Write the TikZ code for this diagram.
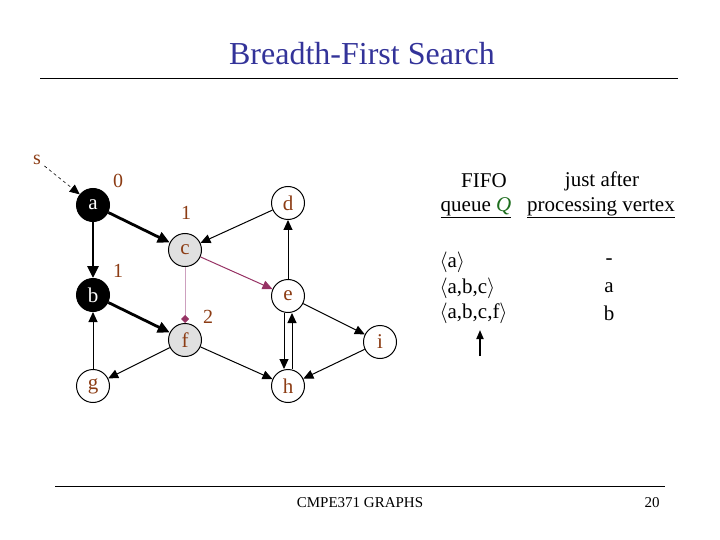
\documentclass[tikz,border=0pt]{standalone}
\usepackage{fontspec}
\setmainfont{Liberation Serif}
\usetikzlibrary{arrows.meta}
\definecolor{ttl}{RGB}{51,51,153}
\definecolor{brn}{RGB}{140,60,20}
\definecolor{pur}{RGB}{150,50,100}
\definecolor{pnk}{RGB}{205,160,190}
\definecolor{grn}{RGB}{30,110,30}
\tikzset{
 vtx/.style={circle,draw,line width=1pt,minimum size=33pt,inner sep=0pt,font=\fontsize{21}{23}\selectfont,text=brn,fill=white},
 blk/.style={vtx,fill=black,text=white},
 gry/.style={vtx,fill=black!12},
 ed/.style={-{Triangle[length=10pt,width=9pt]},line width=1pt},
 tk/.style={-{Triangle[length=12pt,width=11pt]},line width=2.8pt},
 lbl/.style={text=brn,font=\fontsize{20}{22}\selectfont},
 tx/.style={font=\fontsize{21}{24}\selectfont}
}
\begin{document}
\begin{tikzpicture}[x=1pt,y=-1pt]
\useasboundingbox (0,0) rectangle (720,540);
\node[text=ttl,font=\fontsize{32}{36}\selectfont] (title) at (362,54) {Breadth-First Search};
\coordinate (t1) at (40,78); \coordinate (t2) at (678,78);
\draw (t1) -- (t2);
\coordinate (b1) at (55,486); \coordinate (b2) at (665,486);
\draw (b1) -- (b2);
\node[font=\fontsize{15}{17}\selectfont] (foot) at (360,503) {CMPE371 GRAPHS};
\node[font=\fontsize{15}{17}\selectfont] (pg) at (652,503) {20};

\node[blk] (a) at (93,205) {a};
\node[blk] (b) at (93,295) {b};
\node[gry] (c) at (185,250) {c};
\node[gry] (f) at (185,340) {f};
\node[vtx] (d) at (288,203) {d};
\node[vtx] (e) at (288,296) {e};
\node[vtx] (i) at (380,342) {i};
\node[vtx] (g) at (93,386) {g};
\node[vtx] (h) at (288,386) {h};

\node[lbl] (s) at (37,160) {s};
\node[lbl] (l0) at (118,181) {0};
\node[lbl] (l1) at (186,213) {1};
\node[lbl] (l2) at (118,271) {1};
\node[lbl] (l3) at (208,317) {2};

\draw[ed,dashed,line width=0.6pt] (s) -- (a);
\draw[tk] (a) -- (c);
\draw[tk] (a) -- (b);
\draw[tk] (b) -- (f);
\draw[ed] (d) -- (c);
\draw[ed,pur] (c) -- (e);
\draw[pnk,line width=1pt,-{Diamond[length=8pt,width=8pt,fill=pur,color=pur]}] (c) -- (f);
\draw[ed] (e) -- (d);
\draw[ed] ([xshift=-4pt]e.south) -- ([xshift=-4pt]h.north);
\draw[ed] ([xshift=4pt]h.north) -- ([xshift=4pt]e.south);
\draw[ed] (e) -- (i);
\draw[ed] (i) -- (h);
\draw[ed] (f) -- (h);
\draw[ed] (f) -- (g);
\draw[ed] (g) -- (b);

\node[tx] (h1) at (484,181) {FIFO};
\node[tx] (h2) at (476,208) {\underline{queue \textcolor{grn}{\itshape Q}}};
\node[tx] (h3) at (602,181) {just after};
\node[tx] (h4) at (601,208) {\underline{processing vertex}};
\node[tx,anchor=west] (q1) at (436,262) {$\langle$a$\rangle$};
\node[tx,anchor=west] (q2) at (436,288) {$\langle$a,b,c$\rangle$};
\node[tx,anchor=west] (q3) at (436,313) {$\langle$a,b,c,f$\rangle$};
\node[tx] (p1) at (609,262) {-};
\node[tx] (p2) at (609,288) {a};
\node[tx] (p3) at (609,313) {b};
\coordinate (ar1) at (480,356); \coordinate (ar2) at (480,330);
\draw[-{Triangle[length=9pt,width=7pt]},line width=1.8pt] (ar1) -- (ar2);
\end{tikzpicture}
\end{document}
